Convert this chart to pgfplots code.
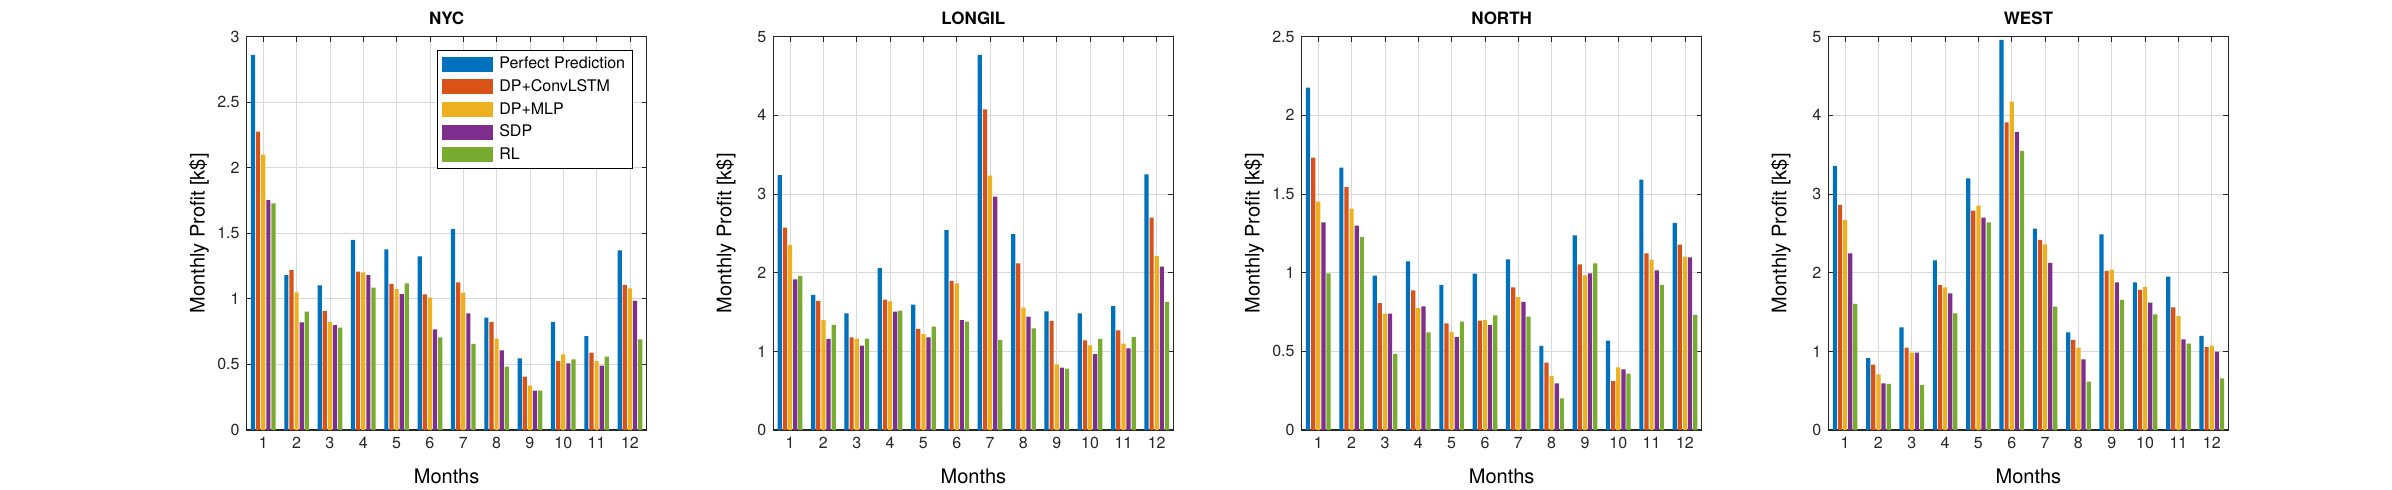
\documentclass[border=0pt]{standalone}
\usepackage{fontspec}
\setmainfont{TeX Gyre Heros}
\usepackage{pgfplots}
\usepackage{pgfplotstable}
\pgfplotsset{compat=1.18}
\definecolor{c1}{rgb}{0,0.447,0.741}
\definecolor{c2}{rgb}{0.850,0.325,0.098}
\definecolor{c3}{rgb}{0.929,0.694,0.125}
\definecolor{c4}{rgb}{0.494,0.184,0.556}
\definecolor{c5}{rgb}{0.466,0.674,0.188}

\pgfplotstableread{
m pp conv mlp sdp rl
1 2.86 2.276 2.10 1.754 1.729
2 1.182 1.22 1.05 0.82 0.903
3 1.103 0.908 0.824 0.80 0.78
4 1.449 1.208 1.203 1.182 1.086
5 1.378 1.114 1.075 1.037 1.119
6 1.325 1.035 1.009 0.768 0.707
7 1.531 1.126 1.047 0.89 0.656
8 0.857 0.824 0.697 0.608 0.483
9 0.547 0.407 0.338 0.30 0.30
10 0.824 0.526 0.577 0.508 0.539
11 0.716 0.59 0.526 0.491 0.559
12 1.369 1.107 1.081 0.985 0.692
}\nyc

\pgfplotstableread{
m pp conv mlp sdp rl
1 3.24 2.572 2.352 1.915 1.958
2 1.716 1.64 1.398 1.157 1.335
3 1.483 1.178 1.161 1.072 1.161
4 2.059 1.657 1.636 1.504 1.517
5 1.593 1.284 1.22 1.178 1.314
6 2.542 1.894 1.864 1.398 1.377
7 4.767 4.076 3.233 2.966 1.144
8 2.49 2.119 1.555 1.44 1.292
9 1.508 1.386 0.835 0.792 0.78
10 1.483 1.14 1.076 0.966 1.157
11 1.576 1.267 1.097 1.038 1.182
12 3.25 2.70 2.212 2.076 1.627
}\longil

\pgfplotstableread{
m pp conv mlp sdp rl
1 2.176 1.731 1.451 1.32 0.996
2 1.667 1.544 1.407 1.299 1.227
3 0.981 0.807 0.739 0.739 0.483
4 1.072 0.888 0.775 0.786 0.621
5 0.922 0.678 0.623 0.591 0.689
6 0.994 0.695 0.699 0.667 0.729
7 1.085 0.907 0.845 0.814 0.72
8 0.534 0.428 0.343 0.297 0.201
9 1.237 1.053 0.983 0.996 1.059
10 0.568 0.311 0.398 0.386 0.358
11 1.591 1.123 1.083 1.015 0.922
12 1.316 1.178 1.102 1.097 0.731
}\north

\pgfplotstableread{
m pp conv mlp sdp rl
1 3.356 2.86 2.669 2.246 1.602
2 0.915 0.831 0.708 0.593 0.585
3 1.305 1.047 0.983 0.983 0.572
4 2.157 1.843 1.814 1.737 1.483
5 3.199 2.788 2.852 2.699 2.64
6 4.958 3.911 4.174 3.788 3.547
7 2.559 2.415 2.36 2.123 1.568
8 1.242 1.144 1.047 0.898 0.614
9 2.487 2.021 2.038 1.877 1.653
10 1.877 1.78 1.818 1.619 1.47
11 1.949 1.559 1.449 1.153 1.097
12 1.195 1.055 1.072 0.996 0.657
}\west

\pgfplotsset{
  panel/.style={
    scale only axis, width=200pt, height=196.7pt,
    anchor=south west,
    xmin=0.5, xmax=12.5, ymin=0,
    xtick={1,2,3,4,5,6,7,8,9,10,11,12},
    ybar=0.46pt, bar width=2.1pt,
    tick align=inside, tick pos=both,
    major tick length=2.5pt,
    grid=major, major grid style={black!15, line width=0.4pt},
    axis line style={black!85, line width=0.6pt},
    every tick/.style={black!85, line width=0.4pt},
    tick label style={font=\fontsize{8}{9.6}\selectfont, text=black!85},
    /pgf/number format/assume math mode=true,
    xlabel={Months}, ylabel={Monthly Profit [k\$]},
    label style={font=\fontsize{10.5}{12}\selectfont, text=black!85},
    every axis x label/.style={at={(axis description cs:0.5,0)}, yshift=-23pt, anchor=center},
    every axis y label/.style={at={(axis description cs:0,0.5)}, xshift=-23.8pt, rotate=90, anchor=center},
    every axis title/.style={at={(axis description cs:0.5,1)}, yshift=9pt, anchor=center, font=\bfseries\fontsize{8.5}{10}\selectfont},
    legend image code/.code={\fill[##1] (0pt,-3.75pt) rectangle (25.5pt,3.75pt);},
  },
}

\newcommand{\bars}[1]{%
  \addplot[fill=c1, draw=none] table[x=m,y=pp]{#1};
  \addplot[fill=c2, draw=none] table[x=m,y=conv]{#1};
  \addplot[fill=c3, draw=none] table[x=m,y=mlp]{#1};
  \addplot[fill=c4, draw=none] table[x=m,y=sdp]{#1};
  \addplot[fill=c5, draw=none] table[x=m,y=rl]{#1};
}

\begin{document}
\begin{tikzpicture}
\useasboundingbox (0,0) rectangle (1196pt,244.5pt);

\begin{axis}[panel, at={(123.3pt,29.5pt)}, title={NYC},
  ymax=3, ytick={0,0.5,1,1.5,2,2.5,3},
  legend style={at={(axis description cs:1,1)}, anchor=north east, xshift=-7pt, yshift=-6.5pt,
    draw=black, line width=0.5pt, fill=white, inner xsep=2.5pt, inner ysep=2.25pt,
    row sep=1.85pt, column sep=2pt, font=\fontsize{8}{9.6}\selectfont,
    nodes={inner sep=1pt, text height=6pt, text depth=1.5pt}},
  legend cell align=left]
\bars{\nyc}
\legend{Perfect Prediction, DP+ConvLSTM, DP+MLP, SDP, RL}
\end{axis}

\begin{axis}[panel, at={(386.7pt,29.5pt)}, title={LONGIL},
  ymax=5, ytick={0,1,2,3,4,5}]
\bars{\longil}
\end{axis}

\begin{axis}[panel, at={(650.8pt,29.5pt)}, title={NORTH},
  ymax=2.5, ytick={0,0.5,1,1.5,2,2.5}]
\bars{\north}
\end{axis}

\begin{axis}[panel, at={(914.2pt,29.5pt)}, title={WEST},
  ymax=5, ytick={0,1,2,3,4,5}]
\bars{\west}
\end{axis}
\end{tikzpicture}
\end{document}
